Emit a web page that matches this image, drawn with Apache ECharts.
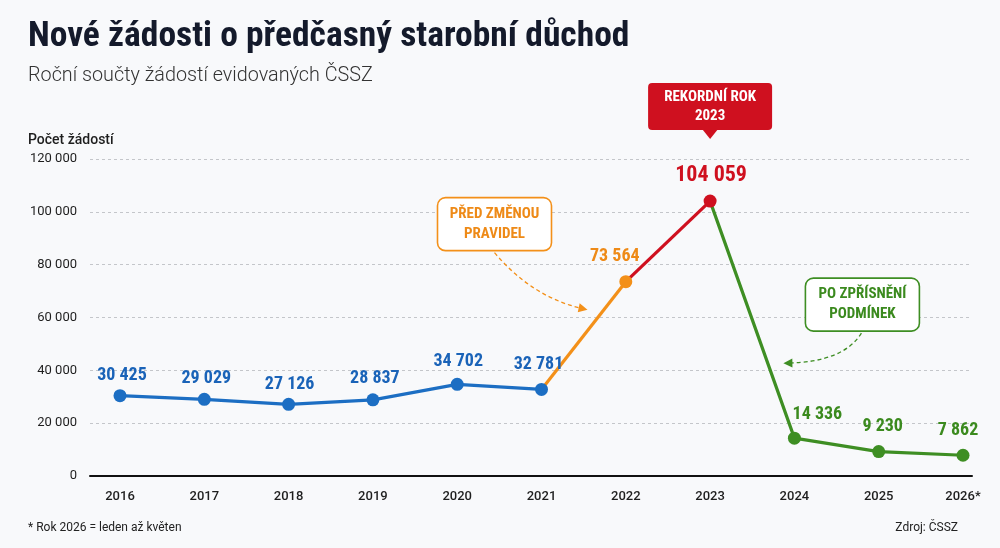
<!DOCTYPE html>
<html>
<head>
<meta charset="utf-8">
<script src="https://cdn.jsdelivr.net/npm/echarts@6/dist/echarts.min.js"></script>
<style>
html,body{margin:0;padding:0;background:#f8f9fb;}
#c{width:1000px;height:548px;}
</style>
</head>
<body>
<div id="c"></div>
<script>
// ---- data ----
const categories = ['2016','2017','2018','2019','2020','2021','2022','2023','2024','2025','2026*'];
const values = [30425, 29029, 27126, 28837, 34702, 32781, 73564, 104059, 14336, 9230, 7862];
const yMin = 0, yMax = 120000, yInterval = 20000;
const titleText = 'Nové žádosti o předčasný starobní důchod';
const subtitleText = 'Roční součty žádostí evidovaných ČSSZ';
const yAxisTitle = 'Počet žádostí';
const footnoteText = '* Rok 2026 = leden až květen';
const sourceText = 'Zdroj: ČSSZ';
const noteRecord = 'REKORDNÍ ROK\n2023';
const noteBefore = 'PŘED ZMĚNOU\nPRAVIDEL';
const noteAfter = 'PO ZPŘÍSNĚNÍ\nPODMÍNEK';

// ---- styles ----
const NARROW = '"Liberation Sans Narrow", "Roboto Condensed", "DejaVu Sans Condensed", sans-serif';
const SANS = 'Roboto, "Noto Sans", sans-serif';
const C = {blue:'#1c6ec3', blueT:'#1a63b8', orange:'#f39019', orangeT:'#ee8a17', red:'#cf101f', green:'#3e8e23', greenT:'#3b8a1e'};
// phase per point: 0 blue, 1 orange, 2 red, 3 green
const phase = i => i <= 5 ? 0 : (i === 6 ? 1 : (i === 7 ? 2 : 3));
const dotColor = [C.blue, C.orange, C.red, C.green];
const labelColor = [C.blueT, C.orangeT, C.red, C.greenT];
const labelOffsets = [[2,-20],[2,-21],[1,-20],[2,-21],[1,-23],[-3,-25],[-11,-25],[1,-26],[23,-24],[4,-25],[-5,-25]];

const fmt = v => String(v).replace(/\B(?=(\d{3})+(?!\d))/g, ' ');
const seg = (a, b) => values.map((v, i) => (i >= a && i <= b) ? v : '-');

const chart = echarts.init(document.getElementById('c'));

const lineSeries = (a, b, color) => ({
  type: 'line', xAxisIndex: 1, yAxisIndex: 1, data: seg(a, b),
  showSymbol: false, symbol: 'none', lineStyle: {color: color, width: 3.2}, z: 3, silent: true
});

const option = {
  backgroundColor: '#f8f9fb',
  animation: false,
  title: [
    {text: titleText, left: 28, top: 19, padding: 0, textStyle: {fontFamily: NARROW, fontWeight: 'bold', fontSize: 35.5, color: '#141a2b'}},
    {text: subtitleText, left: 28, top: 66, padding: 0, textStyle: {fontFamily: SANS, fontWeight: 300, fontSize: 19.8, color: '#333'}},
    {text: yAxisTitle, left: 28, top: 133, padding: 0, textStyle: {fontFamily: SANS, fontWeight: 500, fontSize: 14, color: '#1e1e1e'}},
    {text: footnoteText, left: 28, top: 522, padding: 0, textStyle: {fontFamily: SANS, fontWeight: 400, fontSize: 12, color: '#222'}},
    {text: sourceText, right: 42, top: 522, padding: 0, textStyle: {fontFamily: SANS, fontWeight: 400, fontSize: 12, color: '#222'}}
  ],
  grid: [
    {left: 90, right: 28, top: 159, bottom: 72},
    {left: 120, right: 37, top: 159, bottom: 72}
  ],
  xAxis: [
    {type: 'value', gridIndex: 0, min: 0, max: 1, offset: 5, axisLine: {show: true, lineStyle: {color: '#111', width: 2}},
     axisTick: {show: false}, axisLabel: {show: false}, splitLine: {show: false}},
    {type: 'category', gridIndex: 1, data: categories, boundaryGap: false,
     axisLine: {show: false}, axisTick: {show: false}, splitLine: {show: false},
     axisLabel: {margin: 14, fontFamily: SANS, fontWeight: 500, fontSize: 13, color: '#1e1e1e'}}
  ],
  yAxis: [
    {type: 'value', gridIndex: 0, min: yMin, max: yMax, interval: yInterval,
     axisLine: {show: false}, axisTick: {show: false},
     axisLabel: {margin: 13, fontFamily: SANS, fontSize: 13, color: '#1e1e1e', formatter: v => fmt(v)},
     splitLine: {show: true, lineStyle: {color: '#c4c6ca', type: [3, 3], width: 1}}},
    {type: 'value', gridIndex: 1, min: yMin, max: yMax, interval: yInterval, show: false, splitLine: {show: false}}
  ],
  series: [
    lineSeries(0, 5, C.blue),
    lineSeries(5, 6, C.orange),
    lineSeries(6, 7, C.red),
    lineSeries(7, 10, C.green),
    {
      type: 'scatter', xAxisIndex: 1, yAxisIndex: 1, symbolSize: 13, z: 5, silent: true,
      itemStyle: {opacity: 1},
      data: values.map((v, i) => ({
        value: v,
        itemStyle: {color: dotColor[phase(i)], opacity: 1},
        label: {
          show: true, position: 'inside', offset: labelOffsets[i],
          formatter: p => fmt(p.value), opacity: 1,
          fontFamily: NARROW, fontWeight: 'bold', fontSize: i === 7 ? 22 : 18,
          color: labelColor[phase(i)]
        }
      }))
    }
  ]
};
chart.setOption(option);

// ---- annotations anchored to data points ----
const px = i => chart.convertToPixel({xAxisIndex: 1, yAxisIndex: 1}, [categories[i], values[i]]);
const p21 = px(5), p22 = px(6), p23 = px(7), p24 = px(8);

function arrow(x1, y1, cx, cy, x2, y2, color) {
  const dx = x2 - cx, dy = y2 - cy, L = Math.sqrt(dx*dx + dy*dy);
  const ux = dx / L, uy = dy / L, nx = -uy, ny = ux, h = 9, w = 4.5;
  return [
    {type: 'bezierCurve', shape: {x1: x1, y1: y1, cpx1: cx, cpy1: cy, x2: x2 - ux*4, y2: y2 - uy*4},
     style: {stroke: color, lineWidth: 1.3, lineDash: [4, 3], fill: null}, z: 10, silent: true},
    {type: 'polygon', shape: {points: [[x2, y2], [x2 - ux*h + nx*w, y2 - uy*h + ny*w], [x2 - ux*h - nx*w, y2 - uy*h - ny*w]]},
     style: {fill: color}, z: 10, silent: true}
  ];
}

const rx = p23[0], ry = p23[1] - 62; // pointer tip
const oL = p21[0] - 104, oT = p22[1] - 84;
const gL = p24[0] + 11, gT = p24[1] - 160;

const graphics = [
  // red record box
  {type: 'rect', shape: {x: rx - 62, y: ry - 56, width: 124, height: 47, r: 4}, style: {fill: C.red}, z: 10, silent: true},
  {type: 'polygon', shape: {points: [[rx - 8, ry - 10], [rx + 8, ry - 10], [rx, ry]]}, style: {fill: C.red}, z: 10, silent: true},
  {type: 'text', x: rx, y: ry - 32.5, style: {text: noteRecord, fill: '#fff', align: 'center', verticalAlign: 'middle',
    fontFamily: NARROW, fontWeight: 'bold', fontSize: 15, lineHeight: 19}, z: 11, silent: true},
  // orange box
  {type: 'rect', shape: {x: oL, y: oT, width: 114, height: 53, r: 8}, style: {fill: '#fff', stroke: C.orange, lineWidth: 1.6}, z: 10, silent: true},
  {type: 'text', x: oL + 57, y: oT + 26.5, style: {text: noteBefore, fill: C.orangeT, align: 'center', verticalAlign: 'middle',
    fontFamily: NARROW, fontWeight: 'bold', fontSize: 15, lineHeight: 20}, z: 11, silent: true},
  ...arrow(oL + 57, oT + 55, oL + 95, oT + 100, oL + 150, oT + 112, C.orange),
  // green box
  {type: 'rect', shape: {x: gL, y: gT, width: 114, height: 53, r: 8}, style: {fill: '#fff', stroke: C.green, lineWidth: 1.6}, z: 10, silent: true},
  {type: 'text', x: gL + 57, y: gT + 26.5, style: {text: noteAfter, fill: C.greenT, align: 'center', verticalAlign: 'middle',
    fontFamily: NARROW, fontWeight: 'bold', fontSize: 15, lineHeight: 20}, z: 11, silent: true},
  ...arrow(gL + 56, gT + 55, gL + 38, gT + 84, gL - 22, gT + 85, C.green)
];
chart.setOption({graphic: {elements: graphics}});
</script>
</body>
</html>
